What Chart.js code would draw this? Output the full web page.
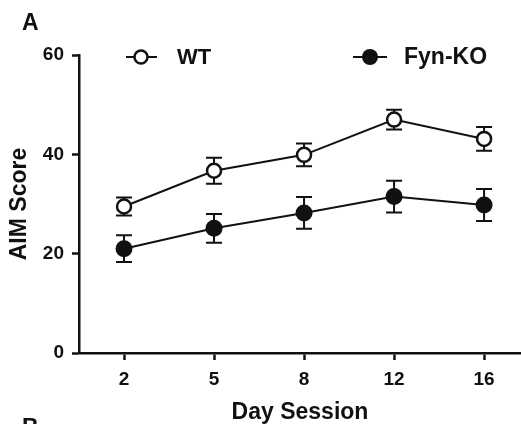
<!DOCTYPE html>
<html lang="en">
<head>
    <meta charset="UTF-8">
    <title>AIM Score</title>
    <script src="https://cdn.jsdelivr.net/npm/chart.js"></script>
    <style>
        html, body { margin: 0; padding: 0; background: #fff; }
        #wrap { width: 521px; height: 424px; }
    </style>
</head>
<body>
    <div id="wrap"><canvas id="aimChart" width="521" height="424"></canvas></div>

    <script>
        const days = ["2", "5", "8", "12", "16"];
        const wtMean = [29.5, 36.7, 39.9, 47.0, 43.1];
        const wtErr = [1.8, 2.6, 2.3, 2.0, 2.4];
        const koMean = [21.0, 25.1, 28.2, 31.5, 29.8];
        const koErr = [2.7, 2.9, 3.2, 3.2, 3.2];
        const yTicks = [0, 20, 40, 60];

        const FONT = "'Liberation Sans', Arial, sans-serif";
        const INK = "#111";

        const toPoints = arr => arr.map((v, i) => ({ x: i, y: v }));

        // error bars go under the markers
        const errorBars = {
            id: "errorBars",
            beforeDatasetsDraw(chart) {
                const ctx = chart.ctx;
                const xs = chart.scales.x, ys = chart.scales.y;
                const sets = [[wtMean, wtErr], [koMean, koErr]];
                ctx.save();
                ctx.strokeStyle = INK;
                ctx.lineWidth = 2;
                for (const [m, e] of sets) {
                    m.forEach((v, i) => {
                        const px = xs.getPixelForValue(i);
                        const top = ys.getPixelForValue(v + e[i]);
                        const bot = ys.getPixelForValue(v - e[i]);
                        ctx.beginPath();
                        ctx.moveTo(px, top); ctx.lineTo(px, bot);
                        ctx.moveTo(px - 8, top); ctx.lineTo(px + 8, top);
                        ctx.moveTo(px - 8, bot); ctx.lineTo(px + 8, bot);
                        ctx.stroke();
                    });
                }
                ctx.restore();
            }
        };

        // legend + panel letters
        const extras = {
            id: "extras",
            afterDraw(chart) {
                const ctx = chart.ctx;
                ctx.save();
                ctx.fillStyle = INK;
                ctx.strokeStyle = INK;
                ctx.textBaseline = "middle";
                ctx.textAlign = "left";
                ctx.font = "bold 23px " + FONT;
                ctx.fillText("A", 22, 24);
                ctx.textBaseline = "top";
                ctx.fillText("B", 22, 417);

                ctx.textBaseline = "middle";
                ctx.font = "bold 22px " + FONT;
                ctx.lineWidth = 2;
                // WT
                ctx.beginPath(); ctx.moveTo(126, 57); ctx.lineTo(157, 57); ctx.stroke();
                ctx.beginPath(); ctx.arc(141, 57, 6.5, 0, Math.PI * 2);
                ctx.fillStyle = "#fff"; ctx.fill(); ctx.lineWidth = 2.5; ctx.stroke();
                ctx.fillStyle = INK;
                ctx.fillText("WT", 177, 58);
                // Fyn-KO
                ctx.lineWidth = 2;
                ctx.beginPath(); ctx.moveTo(353, 57); ctx.lineTo(387, 57); ctx.stroke();
                ctx.beginPath(); ctx.arc(370, 57, 8, 0, Math.PI * 2); ctx.fill();
                ctx.font = "bold 23px " + FONT;
                ctx.fillText("Fyn-KO", 404, 58);
                ctx.restore();
            }
        };

        new Chart(document.getElementById("aimChart"), {
            type: "line",
            data: {
                datasets: [
                    {
                        label: "WT", data: toPoints(wtMean),
                        borderColor: INK, borderWidth: 2,
                        pointRadius: 7, pointBorderWidth: 2.5,
                        pointBackgroundColor: "#fff", pointBorderColor: INK
                    },
                    {
                        label: "Fyn-KO", data: toPoints(koMean),
                        borderColor: INK, borderWidth: 2,
                        pointRadius: 8.5, pointBorderWidth: 0,
                        pointBackgroundColor: INK, pointBorderColor: INK
                    }
                ]
            },
            options: {
                responsive: false,
                animation: false,
                layout: { autoPadding: false, padding: { top: 55, right: 0, left: 0, bottom: -2 } },
                plugins: { legend: { display: false }, tooltip: { enabled: false } },
                scales: {
                    x: {
                        type: "linear", min: -0.5, max: 4.41,
                        afterBuildTicks: s => { s.ticks = days.map((d, i) => ({ value: i })); },
                        afterFit: s => { s.height = 73; s.paddingLeft = 0; s.paddingRight = 0; },
                        grid: { drawOnChartArea: false, tickLength: 7, tickColor: INK, tickWidth: 2.5 },
                        border: { color: INK, width: 2.5 },
                        ticks: {
                            callback: v => days[v],
                            color: INK, padding: 8,
                            font: { family: FONT, size: 19, weight: "bold" }
                        },
                        title: {
                            display: true, text: "Day Session", color: INK,
                            font: { family: FONT, size: 23, weight: "bold" },
                            padding: { top: 0, bottom: 0 }
                        }
                    },
                    y: {
                        min: 0, max: 60,
                        afterBuildTicks: s => { s.ticks = yTicks.map(v => ({ value: v })); },
                        afterFit: s => { s.width = 79; },
                        grid: { drawOnChartArea: false, tickLength: 7, tickColor: INK, tickWidth: 2.5 },
                        border: { color: INK, width: 2.5 },
                        ticks: {
                            color: INK, padding: 8,
                            font: { family: FONT, size: 19, weight: "bold" }
                        },
                        title: {
                            display: true, text: "AIM Score", color: INK,
                            font: { family: FONT, size: 23, weight: "bold" },
                            padding: { top: 6, bottom: 0 }
                        }
                    }
                }
            },
            plugins: [errorBars, extras]
        });
    </script>
</body>
</html>
